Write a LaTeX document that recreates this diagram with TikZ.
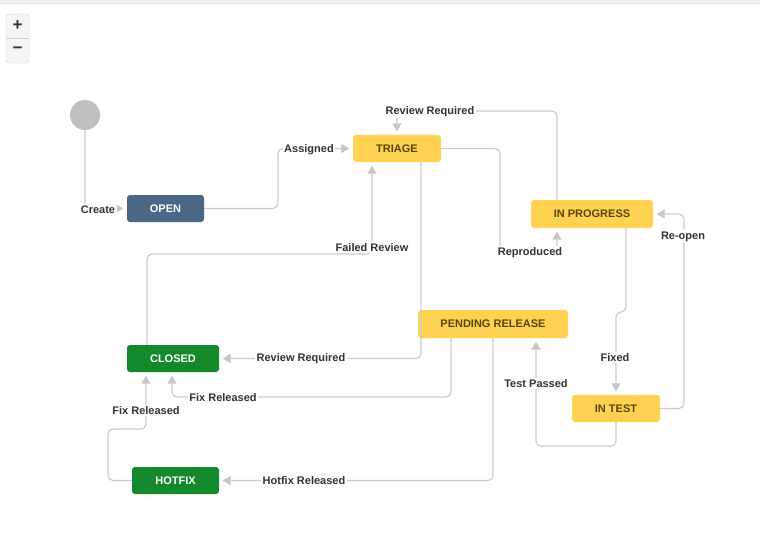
\documentclass[tikz,border=0pt]{standalone}
\usepackage{fontspec}
\setmainfont{Liberation Sans}
\usetikzlibrary{arrows.meta}
\definecolor{todoyel}{HTML}{FFD351}
\definecolor{todotxt}{HTML}{594300}
\definecolor{openblue}{HTML}{4A6785}
\definecolor{donegreen}{HTML}{14892C}
\definecolor{wire}{HTML}{CCCCCC}
\definecolor{tipgray}{HTML}{C6C6C6}
\definecolor{lbltxt}{HTML}{333333}
\begin{document}
\begin{tikzpicture}[x=1pt,y=-1pt,
		font=\fontsize{11}{13}\selectfont\bfseries,
		state/.style={rectangle,rounded corners=3pt,minimum height=27pt,inner sep=0pt},
		todo/.style={state,fill=todoyel,text=todotxt},
		flow/.style={draw=wire,line width=1.2pt,rounded corners=5pt,-{Triangle[length=8pt,width=9pt,fill=tipgray,color=tipgray]},shorten >=3.5pt},
		lbl/.style={fill=white,text=lbltxt,inner sep=1.5pt}]
		\useasboundingbox (0,0) rectangle (760,552);
		\fill[black!5] (0,0) rectangle (760,3.5);
		\draw[black!12] (0,3.5) -- (760,3.5);
		\draw[wire,fill=black!4,rounded corners=3pt] (6,14) rectangle (29,63);
		\draw[wire] (6,38.5) -- (29,38.5);
		\node[text=black!80,font=\fontsize{17}{17}\selectfont\bfseries] (zin) at (17.5,26) {+};
		\node[text=black!80,font=\fontsize{17}{17}\selectfont\bfseries] (zout) at (17.5,50.5) {−};
		\node[circle,fill=black!25,minimum size=30pt,inner sep=0pt] (start) at (85,115) {};
		\node[state,fill=openblue,text=white,minimum width=77pt] (open) at (165.5,208.5) {OPEN};
		\node[todo,minimum width=88pt] (triage) at (397,148.5) {TRIAGE};
		\node[todo,minimum width=122pt,minimum height=28pt] (inprog) at (592,214) {IN PROGRESS};
		\node[todo,minimum width=150pt,minimum height=28pt] (pending) at (493,324) {PENDING RELEASE};
		\node[state,fill=donegreen,text=white,minimum width=92pt] (closed) at (173,358.5) {CLOSED};
		\node[todo,minimum width=88pt] (intest) at (616,408.5) {IN TEST};
		\node[state,fill=donegreen,text=white,minimum width=87pt] (hotfix) at (175.5,480.5) {HOTFIX};
		\draw[flow] (start.south) |- (open.west);
		\draw[flow] (open.east) -- (278,208.5) -- (278,148.5) -- (triage.west);
		\draw[flow] ([xshift=-35pt]inprog.north) -- (557,111) -- (397,111) -- (triage.north);
		\draw[flow] (triage.east) -- (500,148.5) -- (500,252) -- (557,252) -- ([xshift=-35pt]inprog.south);
		\draw[flow] ([xshift=-26pt]closed.north) -- (147,254) -- (372,254) -- ([xshift=-25pt]triage.south);
		\draw[flow] ([xshift=24pt]triage.south) -- (421,358.5) -- (closed.east);
		\draw[flow] ([xshift=-42pt]pending.south) -- (451,397) -- (172,397) -- ([xshift=-1pt]closed.south);
		\draw[flow] (pending.south) -- (493,480.5) -- (hotfix.east);
		\draw[flow] (hotfix.west) -- (108,480.5) -- (108,429) -- (146,429) -- ([xshift=-27pt]closed.south);
		\draw[flow] ([xshift=34pt]inprog.south) -- (626,312) -- (616,312) -- (intest.north);
		\draw[flow] (intest.south) -- (616,446) -- (536,446) -- ([xshift=43pt]pending.south);
		\draw[flow] (intest.east) -- (684,408.5) -- (684,214) -- (inprog.east);
		\node[lbl] (lcreate) at (98,209.5) {Create};
		\node[lbl] (lassigned) at (309,149.5) {Assigned};
		\node[lbl] (lrevtop) at (430,111.5) {Review Required};
		\node[lbl] (lrepro) at (530,252.5) {Reproduced};
		\node[lbl] (lfailed) at (372,247.5) {Failed Review};
		\node[lbl] (lrevlow) at (301,359) {Review Required};
		\node[lbl] (lfixrel) at (223,397.5) {Fix Released};
		\node[lbl] (lhotrel) at (304,481) {Hotfix Released};
		\node[lbl] (lfixhot) at (146,410.5) {Fix Released};
		\node[lbl] (lfixed) at (615,357.5) {Fixed};
		\node[lbl] (lpassed) at (536,383.5) {Test Passed};
		\node[lbl] (lreopen) at (683,236.5) {Re-open};
\end{tikzpicture}
\end{document}
